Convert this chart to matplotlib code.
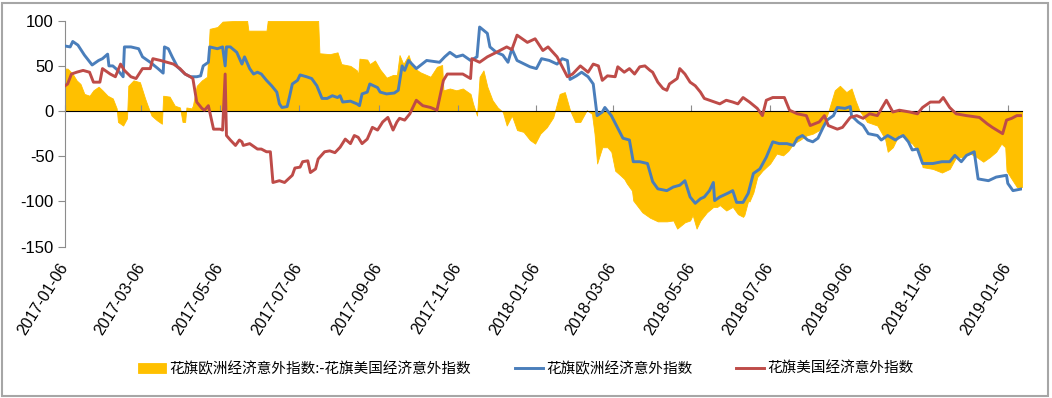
import matplotlib
matplotlib.use('agg')
import matplotlib.pyplot as plt
import numpy as np
import pandas as pd
from matplotlib.patches import Rectangle

plt.rcParams['font.family'] = ['Noto Sans CJK SC', 'DejaVu Sans']

start = pd.Timestamp("2017-01-06")
end_day = 741

# 花旗欧洲经济意外指数 (days since 2017-01-06, value)
eu_days = [0, 4, 6, 10, 15, 21, 26, 29, 33, 34, 37, 41, 45, 46, 51, 57, 60, 66, 72, 76, 77, 80, 83, 87, 93, 97,
           102, 105, 107, 111, 112, 118, 122, 124, 125, 128, 133, 137, 139, 143, 146, 149, 152, 156, 160, 164,
           166, 168, 172, 174, 176, 180, 182, 187, 191, 195, 199, 203, 207, 211, 213, 215, 221, 226, 228, 230,
           234, 236, 242, 244, 249, 255, 258, 261, 263, 266, 272, 280, 290, 294, 298, 303, 308, 314, 319, 321,
           327, 329, 334, 339, 343, 346, 350, 360, 365, 369, 375, 381, 385, 389, 391, 396, 400, 405, 409, 412,
           416, 418, 423, 427, 432, 437, 440, 445, 451, 455, 459, 466, 471, 476, 480, 484, 488, 492, 495, 499,
           502, 503, 507, 513, 517, 520, 525, 529, 533, 538, 543, 548, 553, 559, 564, 567, 571, 575, 579, 583,
           587, 590, 595, 598, 604, 608, 609, 614, 618, 622, 629, 632, 637, 643, 646, 649, 653, 656, 660, 664,
           672, 679, 685, 689, 694, 698, 704, 707, 715, 721, 729, 730, 734, 741]
eu_vals = [72, 71, 77, 73, 62, 51, 56, 58, 63, 50, 50, 45, 38, 71, 71, 69, 60, 54, 47, 42, 71, 69, 60, 49, 41, 38,
           38, 39, 50, 54, 71, 69, 71, 50, 71, 71, 65, 52, 60, 47, 41, 43, 41, 34, 28, 21,
           8, 4, 5, 17, 30, 34, 40, 38, 36, 28, 14, 14, 17, 15, 17, 10, 11, 8, 6, 19,
           21, 30, 26, 21, 19, 20, 23, 50, 45, 56, 47, 56, 54, 60, 65, 60, 62, 56, 60, 93,
           86, 71, 65, 62, 54, 69, 56, 49, 47, 58, 56, 52, 58, 56, 35, 39, 43, 38, 30, -5,
           -1, 4, -5, -16, -30, -32, -56, -56, -58, -78, -86, -88, -84, -82, -77, -95, -102, -97, -95, -88,
           -79, -99, -95, -91, -88, -101, -101, -91, -69, -64, -51, -34, -36, -36, -38, -30, -27, -32, -34, -30,
           -18, -10, -5, 4, 3, 5, -5, -12, -16, -25, -27, -32, -27, -32, -29, -27, -34, -43, -42, -58,
           -58, -56, -56, -49, -56, -49, -45, -75, -77, -73, -71, -80, -88, -86]

# 花旗美国经济意外指数
us_days = [0, 2, 5, 9, 14, 19, 22, 27, 29, 35, 39, 43, 46, 51, 55, 60, 66, 68, 74, 79, 84, 89, 93, 97, 99, 102,
           106, 108, 111, 115, 120, 122, 124, 125, 128, 132, 135, 137, 138, 143, 149, 152, 156, 159, 161, 166,
           170, 176, 178, 182, 184, 188, 190, 194, 196, 201, 205, 209, 213, 217, 221, 224, 227, 230, 234, 238,
           242, 246, 250, 254, 257, 259, 263, 267, 272, 277, 283, 288, 293, 296, 308, 314, 315, 321, 327, 334,
           342, 346, 350, 358, 364, 370, 374, 381, 389, 393, 399, 405, 409, 413, 416, 420, 426, 428, 433, 437,
           441, 445, 449, 453, 455, 459, 463, 466, 468, 474, 476, 480, 484, 488, 492, 495, 499, 503, 507, 512,
           517, 521, 525, 530, 536, 540, 543, 548, 557, 561, 567, 574, 577, 584, 588, 591, 598, 602, 608, 613,
           618, 623, 629, 636, 641, 646, 654, 660, 664, 670, 677, 680, 685, 690, 698, 708, 714, 718, 726, 729,
           733, 737, 741]
us_vals = [28, 30, 41, 43, 45, 43, 32, 32, 47, 41, 38, 52, 45, 38, 36, 47, 47, 58, 56, 54, 52, 47, 41, 38, 36, 10,
           3, 1, 6, -20, -20, -21, 41, -27, -32, -38, -32, -34, -38, -36, -42, -42, -45, -45, -79, -77,
           -79, -71, -63, -62, -56, -55, -68, -64, -53, -45, -44, -46, -40, -31, -36, -27, -29, -36, -31, -18,
           -21, -12, -7, -21, -12, -8, -10, -3, 12, 6, 4, 1, 34, 41, 41, 36, 58, 54, 60, 65,
           71, 68, 84, 76, 80, 67, 71, 60, 38, 41, 50, 43, 52, 50, 34, 39, 38, 49, 43, 47,
           41, 49, 50, 45, 43, 32, 25, 23, 30, 36, 47, 41, 32, 28, 21, 14, 12, 10, 8, 12,
           10, 8, 15, 10, 3, -5, 12, 15, 15, 1, -3, -5, -16, -12, -5, -16, -20, -18, -7, -5,
           -8, -3, -5, 12, -1, 1, -1, -3, 4, 10, 10, 15, 4, -3, -5, -7, -14, -18, -25, -10,
           -8, -5, -5]

# 花旗欧洲经济意外指数:-花旗美国经济意外指数
sp_days = [0, 2, 6, 9, 12, 15, 19, 22, 26, 29, 33, 37, 40, 41, 45, 48, 49, 53, 58, 62, 64, 67, 71, 75, 76, 81,
           85, 89, 91, 93, 94, 98, 99, 102, 106, 110, 112, 118, 122, 135, 141, 142, 156, 157, 196, 197, 205,
           211, 214, 221, 226, 227, 228, 234, 236, 240, 244, 249, 254, 257, 259, 262, 266, 269, 275, 283, 288,
           292, 293, 298, 303, 308, 314, 316, 319, 321, 324, 327, 331, 335, 339, 342, 346, 350, 355, 360, 364,
           368, 373, 378, 383, 387, 391, 395, 399, 404, 408, 410, 412, 416, 420, 423, 426, 430, 433, 435, 439,
           440, 447, 453, 459, 466, 471, 474, 480, 484, 486, 489, 492, 497, 502, 505, 507, 512, 517, 521, 525,
           526, 529, 530, 533, 536, 540, 546, 551, 556, 560, 564, 569, 574, 579, 584, 590, 592, 596, 600, 605,
           609, 612, 615, 621, 629, 635, 637, 641, 646, 652, 656, 662, 664, 672, 679, 685, 690, 695, 701, 706,
           711, 716, 721, 725, 728, 729, 732, 737, 741]
sp_vals = [47, 47, 41, 34, 30, 19, 17, 23, 27, 23, 17, 14, 3, -12, -16, -8, 28, 34, 32, 14, 6, -5, -10, -14, 17, 16,
           6, 4, -12, -12, 4, 3, 6, 28, 34, 38, 91, 93, 99, 100, 100, 89, 89, 100, 100, 64, 63,
           65, 52, 50, 45, 40, 58, 57, 52, 56, 46, 37, 40, 40, 62, 52, 62, 49, 43, 38, 49,
           51, 23, 25, 23, 25, 19, 8, -5, 38, 45, 27, 12, 4, -1, -16, -5, -21, -23, -32, -36,
           -25, -18, -7, 19, 21, 1, -12, -12, 1, -3, -25, -58, -40, -40, -45, -66, -71, -75, -80, -88,
           -99, -112, -118, -122, -122, -121, -130, -123, -121, -115, -130, -121, -112, -106, -106, -104, -110, -106, -114, -117,
           -115, -99, -100, -90, -73, -66, -58, -47, -49, -44, -36, -32, -27, -25, -21, -5, 4, 23, 28, 21,
           25, 12, 1, -12, -16, -31, -45, -40, -25, -32, -36, -47, -62, -64, -68, -64, -51, -51, -47, -51,
           -56, -51, -45, -36, -40, -66, -73, -84, -84]

tick_labels = ["2017-01-06", "2017-03-06", "2017-05-06", "2017-07-06", "2017-09-06", "2017-11-06", "2018-01-06",
               "2018-03-06", "2018-05-06", "2018-07-06", "2018-09-06", "2018-11-06", "2019-01-06"]

sp_name = "花旗欧洲经济意外指数:-花旗美国经济意外指数"
eu_name = "花旗欧洲经济意外指数"
us_name = "花旗美国经济意外指数"

eu_x = start + pd.to_timedelta(eu_days, unit="D")
us_x = start + pd.to_timedelta(us_days, unit="D")
sp_x = start + pd.to_timedelta(sp_days, unit="D")
ticks = pd.to_datetime(tick_labels)

fig = plt.figure(figsize=(10.52, 3.98), dpi=100)
ax = fig.add_axes([0.0618, 0.3802, 0.9097, 0.5678])

ax.fill_between(sp_x, sp_vals, 0, color="#FFC000", lw=0.6, edgecolor="#FFC000", label=sp_name, zorder=1)
ax.plot(eu_x, eu_vals, color="#4A7EBB", lw=2.1, label=eu_name, zorder=3)
ax.plot(us_x, us_vals, color="#BE4B48", lw=2.1, label=us_name, zorder=3)

ax.set_ylim(-150, 100)
ax.set_xlim(start, start + pd.Timedelta(days=end_day))
ax.set_yticks([-150, -100, -50, 0, 50, 100])
ax.set_yticklabels([str(v) for v in [-150, -100, -50, 0, 50, 100]], family="Liberation Sans", fontsize=12)

for s in ["top", "right", "bottom"]:
    ax.spines[s].set_visible(False)
ax.spines["left"].set_color("#8c8c8c")
ax.tick_params(axis="y", direction="out", length=5, color="#8c8c8c", pad=3)

ax.set_xticks(ticks)
ax.set_xticklabels(tick_labels, rotation=58, ha="right", va="center", rotation_mode="anchor",
                   family="Liberation Sans", fontsize=11.5)
ax.tick_params(axis="x", length=0, pad=13)

# horizontal axis line at zero
zero = ax.secondary_xaxis(0.6)
zero.set_zorder(2)
zero.set_xticks(ticks)
zero.set_xticklabels([])
zero.tick_params(axis="x", direction="out", length=4, color="#8c8c8c")
zero.spines["bottom"].set_color("#8c8c8c")

fig.legend(loc="center", bbox_to_anchor=(0.5, 0.073), ncol=3, frameon=False, fontsize=10.5,
           handlelength=1.9, handletextpad=0.25, columnspacing=3.0)

fig.add_artist(Rectangle((0.002, 0.006), 0.994, 0.986, transform=fig.transFigure, fill=False,
                         edgecolor="#a6a6a6", lw=1.5))

fig.savefig("out.png", dpi=100)
